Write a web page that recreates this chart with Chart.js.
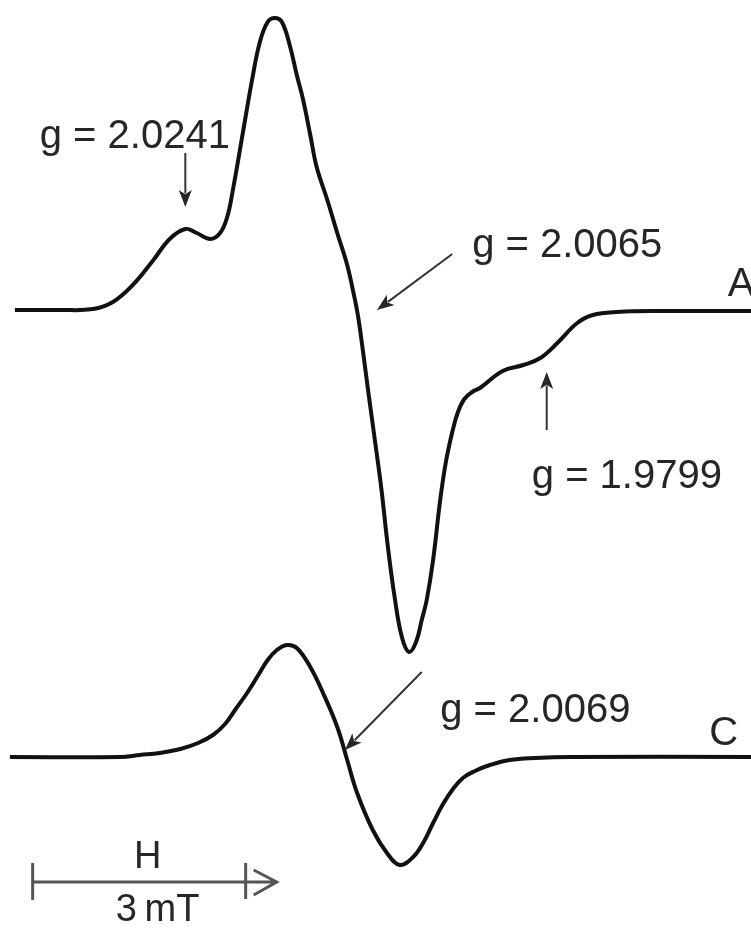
<!DOCTYPE html>
<html>
<head>
<meta charset="utf-8">
<script src="https://cdn.jsdelivr.net/npm/chart.js@4.4.1/dist/chart.umd.min.js"></script>
<style>
  html, body { margin: 0; padding: 0; background: #fff; }
  #wrap { width: 751px; height: 929px; position: relative; }
</style>
</head>
<body>
<div id="wrap"><canvas id="epr"></canvas></div>
<script>
// field in mT (arbitrary origin), intensity in arbitrary units
const fieldA = [0.21, 0.85, 1.31, 1.59, 1.87, 2.15, 2.39, 2.61, 2.77, 2.96, 3.10, 3.20, 3.28, 3.42, 3.55, 3.66, 3.77, 3.87, 3.97, 4.08,
  4.18, 4.27, 4.37, 4.46, 4.61, 4.75, 4.89, 4.97, 5.04, 5.11, 5.18, 5.27, 5.37, 5.46, 5.56, 5.66, 5.76, 5.86, 5.94, 6.01,
  6.10, 6.20, 6.28, 6.37, 6.45, 6.54, 6.65, 6.76, 7.08, 7.37, 7.61, 7.85, 8.13, 8.35, 8.69, 9.30, 10.58];
const signalA = [0, 0, 1, 8, 25, 49, 71, 81, 77, 71, 77, 93, 120, 177, 230, 268, 288, 292, 288, 265,
  235, 210, 175, 143, 110, 77, 45, 20, -5, -40, -78, -125, -178, -235, -288, -327, -342, -332, -310, -290,
  -250, -190, -152, -122, -102, -89, -82, -78, -61, -55, -48, -33, -13, -5, -2, -1, -1];

const fieldC = [0.14, 1.69, 1.97, 2.25, 2.54, 2.79, 3.00, 3.17, 3.32, 3.48, 3.63, 3.77, 3.90, 4.04, 4.18, 4.37, 4.55, 4.75,
  4.89, 5.03, 5.25, 5.45, 5.63, 5.82, 5.96, 6.10, 6.24, 6.38, 6.52, 6.69, 6.90, 7.18, 7.54, 8.03, 10.58];
const signalC = [0, 0, 2, 4, 8, 14, 22, 33, 48, 64, 81, 97, 107, 112, 109, 90, 64, 30,
  -3, -36, -73, -96, -108, -100, -86, -66, -47, -32, -21, -14, -8, -3, -1, 0, 0];
const offsetC = -447;

// g-value labels: text, text anchor, arrow tail, arrow tip (field, intensity)
const gLabels = ['g = 2.0241', 'g = 2.0065', 'g = 1.9799', 'g = 2.0069'];
const gTextAt = [[0.56, 162], [6.65, 53], [7.49, -178], [6.20, -412]];
const gArrowFrom = [[2.61, 157], [6.37, 56], [7.70, -120], [5.94, -362]];
const gArrowTo = [[2.61, 103], [5.31, 0], [7.70, -62], [4.86, -440]];

const traceNames = ['A', 'C'];
const traceNameAt = [[10.25, 14], [9.99, -435]];

const scaleBarStart = 0.46;
const scaleBarLength = 3; // mT
const scaleBarY = -572;

function toPoints(xs, ys, off) {
  return xs.map((x, i) => ({ x: x, y: ys[i] + off }));
}

const FONT = '40px "Liberation Sans", Arial, sans-serif';
const INK = '#262626';

function arrow(ctx, x1, y1, x2, y2) {
  const ang = Math.atan2(y2 - y1, x2 - x1);
  const len = 17, half = 6.5;
  ctx.beginPath();
  ctx.moveTo(x1, y1);
  ctx.lineTo(x2 - Math.cos(ang) * len * 0.8, y2 - Math.sin(ang) * len * 0.8);
  ctx.stroke();
  ctx.beginPath();
  ctx.moveTo(x2, y2);
  ctx.lineTo(x2 - Math.cos(ang) * len - Math.sin(ang) * half, y2 - Math.sin(ang) * len + Math.cos(ang) * half);
  ctx.lineTo(x2 - Math.cos(ang) * len * 0.75, y2 - Math.sin(ang) * len * 0.75);
  ctx.lineTo(x2 - Math.cos(ang) * len + Math.sin(ang) * half, y2 - Math.sin(ang) * len - Math.cos(ang) * half);
  ctx.closePath();
  ctx.fill();
}

const annotations = {
  id: 'annotations',
  afterDatasetsDraw(chart) {
    const ctx = chart.ctx;
    const xs = chart.scales.x, ys = chart.scales.y;
    const px = v => xs.getPixelForValue(v);
    const py = v => ys.getPixelForValue(v);
    ctx.save();
    ctx.font = FONT;
    ctx.fillStyle = INK;
    ctx.strokeStyle = '#333';
    ctx.lineWidth = 2;
    ctx.textBaseline = 'alphabetic';
    ctx.textAlign = 'left';

    gLabels.forEach((t, i) => {
      ctx.fillText(t, px(gTextAt[i][0]), py(gTextAt[i][1]));
      arrow(ctx, px(gArrowFrom[i][0]), py(gArrowFrom[i][1]), px(gArrowTo[i][0]), py(gArrowTo[i][1]));
    });

    traceNames.forEach((t, i) => {
      ctx.fillText(t, px(traceNameAt[i][0]), py(traceNameAt[i][1]));
    });

    // scale bar
    const x0 = px(scaleBarStart), x1 = px(scaleBarStart + scaleBarLength), y0 = py(scaleBarY);
    ctx.strokeStyle = '#555';
    ctx.lineWidth = 3;
    ctx.beginPath();
    ctx.moveTo(x0, y0); ctx.lineTo(x1 + 30, y0);
    ctx.moveTo(x0, y0 - 19); ctx.lineTo(x0, y0 + 18);
    ctx.moveTo(x1, y0 - 19); ctx.lineTo(x1, y0 + 17);
    ctx.moveTo(x1 + 8, y0 - 12); ctx.lineTo(x1 + 31, y0); ctx.lineTo(x1 + 8, y0 + 13);
    ctx.stroke();
    ctx.textAlign = 'center';
    ctx.font = '38px "Liberation Sans", Arial, sans-serif';
    ctx.fillText('H', x0 + 115, y0 - 14);
    ctx.fillText('3\u2009mT', x0 + 125, y0 + 39);
    ctx.restore();
  }
};

new Chart(document.getElementById('epr'), {
  type: 'scatter',
  data: {
    datasets: [
      {
        label: 'A',
        data: toPoints(fieldA, signalA, 0),
        showLine: true,
        borderColor: '#111',
        borderWidth: 4,
        pointRadius: 0,
        tension: 0.4
      },
      {
        label: 'C',
        data: toPoints(fieldC, signalC, offsetC),
        showLine: true,
        borderColor: '#111',
        borderWidth: 4,
        pointRadius: 0,
        tension: 0.4
      }
    ]
  },
  options: {
    responsive: true,
    maintainAspectRatio: false,
    animation: false,
    layout: { padding: 0 },
    plugins: { legend: { display: false }, tooltip: { enabled: false } },
    scales: {
      x: { type: 'linear', min: 0, max: 751 / 71, display: false },
      y: { type: 'linear', min: -619, max: 310, display: false }
    }
  },
  plugins: [annotations]
});
</script>
</body>
</html>
